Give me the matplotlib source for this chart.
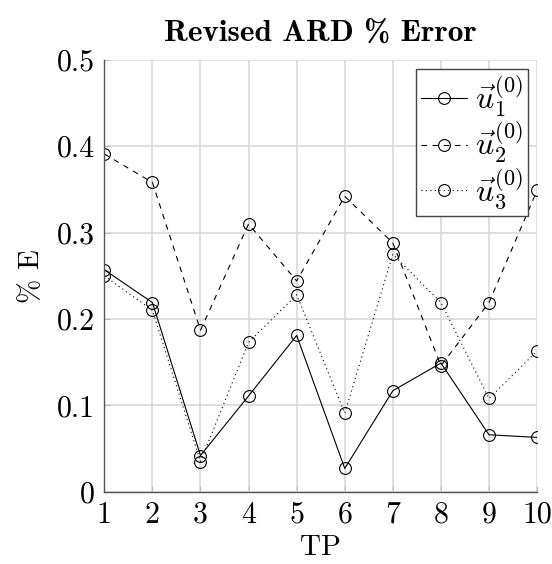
import matplotlib
matplotlib.use("Agg")
import matplotlib.pyplot as plt

tp = [1, 2, 3, 4, 5, 6, 7, 8, 9, 10]
u1 = [0.257, 0.219, 0.042, 0.111, 0.181, 0.027, 0.117, 0.149, 0.066, 0.063]
u2 = [0.391, 0.358, 0.187, 0.310, 0.244, 0.342, 0.288, 0.146, 0.219, 0.349]
u3 = [0.250, 0.210, 0.035, 0.173, 0.228, 0.091, 0.275, 0.219, 0.108, 0.163]
labels = [r"$\vec{u}_1^{(0)}$", r"$\vec{u}_2^{(0)}$", r"$\vec{u}_3^{(0)}$"]
styles = ["-", (0, (5, 5)), (0, (1, 3))]
yticks = [0, 0.1, 0.2, 0.3, 0.4, 0.5]
ytick_labels = ["0", "0.1", "0.2", "0.3", "0.4", "0.5"]

plt.rcParams["mathtext.fontset"] = "cm"
plt.rcParams["font.family"] = "serif"
plt.rcParams["font.serif"] = ["cmr10"]
plt.rcParams["axes.unicode_minus"] = False

fig = plt.figure(figsize=(5.52, 5.64), dpi=100)
ax = fig.add_axes([0.189, 0.128, 0.784, 0.766])

for ys, ls, lab in zip([u1, u2, u3], styles, labels):
    ax.plot(tp, ys, linestyle=ls, color="black", linewidth=0.8, marker="o",
            markersize=8.5, markerfacecolor="none", markeredgecolor="black",
            markeredgewidth=0.8, label=lab)

ax.set_xlim(1, 10)
ax.set_ylim(0, 0.5)
ax.set_xticks(tp)
ax.set_xticklabels([str(t) for t in tp])
ax.set_yticks(yticks)
ax.set_yticklabels(ytick_labels)
ax.grid(True, color="#d9d9d9", linewidth=1.2)
ax.set_axisbelow(True)
ax.tick_params(direction="in", length=4, color="#bbbbbb", labelsize=21.5, pad=7)
for s in ["top", "right"]:
    ax.spines[s].set_visible(False)
for s in ["left", "bottom"]:
    ax.spines[s].set_color("#555555")
    ax.spines[s].set_linewidth(1.0)

ax.set_xlabel("TP", fontsize=21, labelpad=4)
ax.set_ylabel("% E", fontsize=21, labelpad=8)
ax.set_title("Revised ARD % Error", fontsize=22.5, fontfamily="cmb10", pad=14)

leg = ax.legend(loc="upper right", bbox_to_anchor=(0.979, 0.979), fontsize=23,
                frameon=True, fancybox=False, edgecolor="#444444",
                handlelength=1.45, handletextpad=0.25, labelspacing=0.0,
                borderpad=0.15, borderaxespad=0, framealpha=1)
leg.get_frame().set_linewidth(1.0)

fig.savefig("out.png", dpi=100)
